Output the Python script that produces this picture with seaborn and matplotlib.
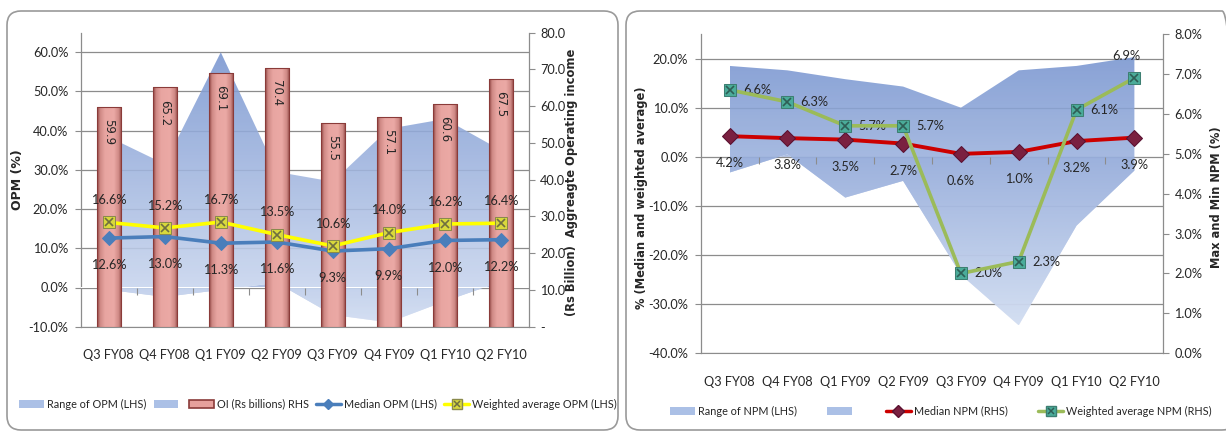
import numpy as np
import matplotlib
matplotlib.use("Agg")
import matplotlib.pyplot as plt
import seaborn as sns
from matplotlib.patches import FancyBboxPatch, Patch
from matplotlib.lines import Line2D
from matplotlib.legend_handler import HandlerTuple
from matplotlib.colors import to_rgb, LinearSegmentedColormap
from matplotlib.transforms import IdentityTransform

# ---------------- data ----------------
quarters = ["Q3 FY08", "Q4 FY08", "Q1 FY09", "Q2 FY09",
            "Q3 FY09", "Q4 FY09", "Q1 FY10", "Q2 FY10"]

# Operating profit margin panel
opm_range_max = [38.4, 31.5, 60.0, 29.5, 27.0, 40.5, 43.0, 35.0]
opm_range_min = [-0.6, -2.4, -0.6, 1.2, -7.0, -8.9, -3.5, 1.5]
oi_billions = [59.9, 65.2, 69.1, 70.4, 55.5, 57.1, 60.6, 67.5]
opm_median = [12.6, 13.0, 11.3, 11.6, 9.3, 9.9, 12.0, 12.2]
opm_weighted = [16.6, 15.2, 16.7, 13.5, 10.6, 14.0, 16.2, 16.4]

# Net profit margin panel
npm_range_max = [18.5, 17.6, 15.8, 14.3, 10.0, 17.6, 18.5, 20.3]
npm_range_min = [-3.2, 0.5, -8.3, -4.9, -24.0, -34.3, -14.0, -2.8]
npm_median = [4.2, 3.8, 3.5, 2.7, 0.6, 1.0, 3.2, 3.9]
npm_weighted = [6.6, 6.3, 5.7, 5.7, 2.0, 2.3, 6.1, 6.9]

# ---------------- style ----------------
sns.set_style("white")
NARROW = ["Lato", "DejaVu Sans"]
plt.rcParams["font.family"] = NARROW
TXT = "#262626"
GRID = "#8c8c8c"
TICK_FS = 9.2
LEGEND_FS = 7.8
TITLE_FS = 8.3

W, H = 1226, 432
fig = plt.figure(figsize=(W / 100, H / 100), dpi=100)


def rect(x0, x1, ytop, ybot):
    return [x0 / W, (H - ybot) / H, (x1 - x0) / W, (ybot - ytop) / H]


pos = np.arange(len(quarters))


def gradient_area(ax, x, lower, upper, top_col, bot_col, alpha, z):
    poly = ax.fill_between(x, lower, upper, facecolor="none",
                           edgecolor="none", zorder=z)
    lo = float(min(np.min(lower), np.min(upper)))
    hi = float(max(np.max(lower), np.max(upper)))
    t = np.linspace(0, 1, 256)[:, None, None]
    rgb = np.array(to_rgb(top_col)) * (1 - t) + np.array(to_rgb(bot_col)) * t
    img = np.concatenate([rgb, np.full((256, 1, 1), alpha)], axis=2)
    im = ax.imshow(img, extent=[x[0], x[-1], lo, hi], origin="upper",
                   aspect="auto", interpolation="bilinear", zorder=z)
    im.set_clip_path(poly.get_paths()[0], transform=ax.transData)


def shade_bars(ax, z):
    cols = ["#8e4543", "#cf8985", "#e8a5a1", "#eba9a5", "#cf8985", "#8e4543"]
    stops = [0, 0.12, 0.32, 0.68, 0.88, 1]
    cmap = LinearSegmentedColormap.from_list("bevel", list(zip(stops, cols)))
    grad = np.linspace(0, 1, 64)[None, :]
    for p in ax.patches:
        x0, y0 = p.get_x(), p.get_y()
        w, h = p.get_width(), p.get_height()
        im = ax.imshow(grad, cmap=cmap, extent=[x0, x0 + w, y0, y0 + h],
                       aspect="auto", interpolation="bilinear", zorder=z)
        im.set_clip_path(p)
        p.set_facecolor("none")
        p.set_edgecolor("#8a3b39")
        p.set_linewidth(0.8)
        p.set_zorder(z + 1)


def style_y(ax, side):
    ax.tick_params(axis="y", which="major", length=4, width=0.8,
                   color=GRID, labelsize=TICK_FS, labelcolor=TXT,
                   pad=4 if side == "right" else 5, direction="out")
    for s in ax.spines.values():
        s.set_visible(False)
    ax.spines[side].set_visible(True)
    ax.spines[side].set_color(GRID)
    ax.spines[side].set_linewidth(0.9)


def category_ticks(ax):
    ax.set_xlim(-0.5, len(quarters) - 0.5)
    ax.set_xticks(pos, quarters)
    ax.tick_params(axis="x", length=0, pad=16, labelsize=TICK_FS,
                   labelcolor=TXT)
    sec = ax.secondary_xaxis(0, transform=ax.transData)
    sec.set_xticks(pos[:-1] + 0.5, [""] * (len(quarters) - 1))
    sec.tick_params(axis="x", length=5, width=0.8, color=GRID,
                    direction="out")
    for s in sec.spines.values():
        s.set_visible(False)
    sec.set_zorder(3)


AREA_TOP, AREA_BOT = "#7895d0", "#d3def2"
BASE_TOP, BASE_BOT = "#7391cf", "#cfdbf1"
TUPLE_HANDLER = {tuple: HandlerTuple(ndivide=1, pad=0)}

# ======================= OPM panel =======================
ax_a = fig.add_axes(rect(80.7, 529, 32.7, 326.7))
ax_b = ax_a.twinx()
ax_l = ax_a.twinx()

gradient_area(ax_a, pos, np.zeros(len(pos)), opm_range_min,
              BASE_TOP, BASE_BOT, 0.6, 1)
gradient_area(ax_a, pos, opm_range_min, opm_range_max,
              AREA_TOP, AREA_BOT, 0.88, 1.1)
ax_a.set_ylim(-10, 65)
ax_a.set_yticks(np.arange(-10, 61, 10),
                [f"{v:.1f}%" for v in np.arange(-10, 61, 10)])
ax_a.grid(axis="y", color=GRID, lw=0.9)
ax_a.set_axisbelow(True)
style_y(ax_a, "left")
ax_a.spines["bottom"].set_visible(True)
ax_a.spines["bottom"].set_color(GRID)
category_ticks(ax_a)
ax_a.set_ylabel("OPM (%)", fontsize=9, fontweight="bold", color=TXT,
                family="DejaVu Sans")
ax_a.yaxis.label.set_verticalalignment("center")
ax_a.yaxis.set_label_coords(-0.142, 0.5)

sns.barplot(x=pos, y=oi_billions, ax=ax_b, native_scale=True, width=0.43,
            color="#e6a09c", saturation=1, errorbar=None)
shade_bars(ax_b, 2)
ax_b.set_ylim(0, 80)
ax_b.set_yticks(np.arange(0, 81, 10),
                ["-" if v == 0 else f"{v:.1f}" for v in np.arange(0, 81, 10)])
style_y(ax_b, "right")
ax_b.set_ylabel("(Rs Billion)  Aggreagte Operating income", fontsize=TITLE_FS,
                fontweight="bold", color=TXT, family="DejaVu Sans")
ax_b.yaxis.label.set_verticalalignment("center")
ax_b.yaxis.set_label_coords(1.094, 0.49)
for xv, v in zip(pos, oi_billions):
    ax_b.annotate(f"{v:.1f}", (xv, v), xytext=(0, -9),
                  textcoords="offset points", ha="center", va="top",
                  rotation=270, fontsize=8.5, color=TXT,
                  family="DejaVu Sans", zorder=5)

sns.lineplot(x=pos, y=opm_median, ax=ax_l, color="#4a7ebb", lw=2.6,
             marker="D", markersize=7, markeredgecolor="#4a7ebb",
             legend=False, zorder=3)
sns.lineplot(x=pos, y=opm_weighted, ax=ax_l, color="#ffff00", lw=2.6,
             marker="s", markersize=9, markerfacecolor="#d9d93c",
             markeredgecolor="#8a8a4c", legend=False, zorder=4)
ax_l.plot(pos, opm_weighted, ls="none", marker="x", markersize=6,
          markeredgecolor="#6f6f40", markeredgewidth=1.2, zorder=5)
ax_l.set_ylim(ax_a.get_ylim())
ax_l.set_xlim(ax_a.get_xlim())
ax_l.axis("off")
for xv, v in zip(pos, opm_median):
    ax_l.annotate(f"{v:.1f}%", (xv, v), xytext=(0, -19.5),
                  textcoords="offset points", ha="center", va="center",
                  fontsize=TICK_FS, color=TXT)
for xv, v in zip(pos, opm_weighted):
    ax_l.annotate(f"{v:.1f}%", (xv, v), xytext=(0, 16),
                  textcoords="offset points", ha="center", va="center",
                  fontsize=TICK_FS, color=TXT)

area_col = "#abc0e6"
handles_l = [
    Patch(facecolor=area_col, edgecolor="none"),
    Patch(facecolor=area_col, edgecolor="none"),
    Patch(facecolor="#e6a09c", edgecolor="#8a3b39", lw=1.2),
    Line2D([], [], color="#4a7ebb", lw=2.5, marker="D", ms=5),
    (Line2D([], [], color="#ffff00", lw=2.5, marker="s", ms=7,
            mfc="#d9d93c", mec="#8a8a4c"),
     Line2D([], [], ls="none", marker="x", ms=5, mec="#6f6f40", mew=1.1)),
]
labels_l = ["Range of OPM (LHS)", "", "OI (Rs billions) RHS",
            "Median OPM (LHS)", "Weighted average OPM (LHS)"]
fig.legend(handles_l, labels_l, handler_map=TUPLE_HANDLER,
           loc="center", bbox_to_anchor=(318 / W, (H - 404) / H), ncol=5,
           frameon=False, fontsize=LEGEND_FS, handlelength=2.3,
           handleheight=0.7, handletextpad=0.3, columnspacing=0.65,
           labelcolor=TXT)

# ======================= NPM panel =======================
ax_r = fig.add_axes(rect(700.7, 1163.3, 34, 353.3))
ax_r2 = ax_r.twinx()

gradient_area(ax_r, pos, np.zeros(len(pos)), npm_range_min,
              BASE_TOP, BASE_BOT, 0.6, 1)
gradient_area(ax_r, pos, npm_range_min, npm_range_max,
              AREA_TOP, AREA_BOT, 0.88, 1.1)
ax_r.set_ylim(-40, 25)
ax_r.set_yticks(np.arange(-40, 21, 10),
                [f"{v:.1f}%" for v in np.arange(-40, 21, 10)])
ax_r.grid(axis="y", color=GRID, lw=0.9)
ax_r.set_axisbelow(True)
style_y(ax_r, "left")
ax_r.spines["bottom"].set_visible(True)
ax_r.spines["bottom"].set_color(GRID)
category_ticks(ax_r)
ax_r.set_ylabel("% (Median and weighted average)", fontsize=TITLE_FS,
                fontweight="bold", color=TXT, family="DejaVu Sans")
ax_r.yaxis.label.set_verticalalignment("center")
ax_r.yaxis.set_label_coords(-0.127, 0.488)

sns.lineplot(x=pos, y=npm_median, ax=ax_r, color="#cc0000", lw=2.8,
             marker="D", markersize=8, markerfacecolor="#7a2040",
             markeredgecolor="#5a1030", legend=False, zorder=3)
for xv, v in zip(pos, npm_median):
    ax_r.annotate(f"{v:.1f}%", (xv, v), xytext=(0, -19.5),
                  textcoords="offset points", ha="center", va="center",
                  fontsize=TICK_FS, color=TXT)

sns.lineplot(x=pos, y=npm_weighted, ax=ax_r2, color="#9bbb59", lw=2.6,
             marker="s", markersize=9, markerfacecolor="#4bac9a",
             markeredgecolor="#3d7f72", legend=False, zorder=4)
ax_r2.plot(pos, npm_weighted, ls="none", marker="x", markersize=6,
           markeredgecolor="#2e5e55", markeredgewidth=1.2, zorder=5)
ax_r2.set_ylim(0, 8)
ax_r2.set_yticks(np.arange(0, 9, 1),
                 [f"{v:.1f}%" for v in np.arange(0, 9, 1)])
style_y(ax_r2, "right")
ax_r2.set_xlim(ax_r.get_xlim())
ax_r2.set_ylabel("Max and Min NPM (%)", fontsize=TITLE_FS, fontweight="bold",
                 color=TXT, family="DejaVu Sans")
ax_r2.yaxis.label.set_verticalalignment("center")
ax_r2.yaxis.set_label_coords(1.116, 0.49)
for i, (xv, v) in enumerate(zip(pos, npm_weighted)):
    if i == len(pos) - 1:
        off, ha = (-6, 16), "center"
    else:
        off, ha = (9.5, 0), "left"
    ax_r2.annotate(f"{v:.1f}%", (xv, v), xytext=off,
                   textcoords="offset points", ha=ha, va="center",
                   fontsize=TICK_FS, color=TXT)

handles_r = [
    Patch(facecolor=area_col, edgecolor="none"),
    Patch(facecolor=area_col, edgecolor="none"),
    Line2D([], [], color="#cc0000", lw=2.5, marker="D", ms=6,
           mfc="#7a2040", mec="#5a1030"),
    (Line2D([], [], color="#9bbb59", lw=2.5, marker="s", ms=7,
            mfc="#4bac9a", mec="#3d7f72"),
     Line2D([], [], ls="none", marker="x", ms=5, mec="#2e5e55", mew=1.1)),
]
labels_r = ["Range of NPM (LHS)", "", "Median NPM (RHS)",
            "Weighted average NPM (RHS)"]
fig.legend(handles_r, labels_r, handler_map=TUPLE_HANDLER,
           loc="center", bbox_to_anchor=(941 / W, (H - 411) / H), ncol=4,
           frameon=False, fontsize=LEGEND_FS, handlelength=2.3,
           handleheight=0.7, handletextpad=0.3, columnspacing=2.8,
           labelcolor=TXT)

# ---------------- rounded panel frames ----------------
for x0, x1 in [(7, 618), (626, 1236)]:
    fig.add_artist(FancyBboxPatch(
        (x0, 2), x1 - x0, 419, boxstyle="round,pad=0,rounding_size=14",
        transform=IdentityTransform(), fill=False, edgecolor="#9a9a9a",
        lw=1.2))

fig.savefig("out.png", dpi=100)
